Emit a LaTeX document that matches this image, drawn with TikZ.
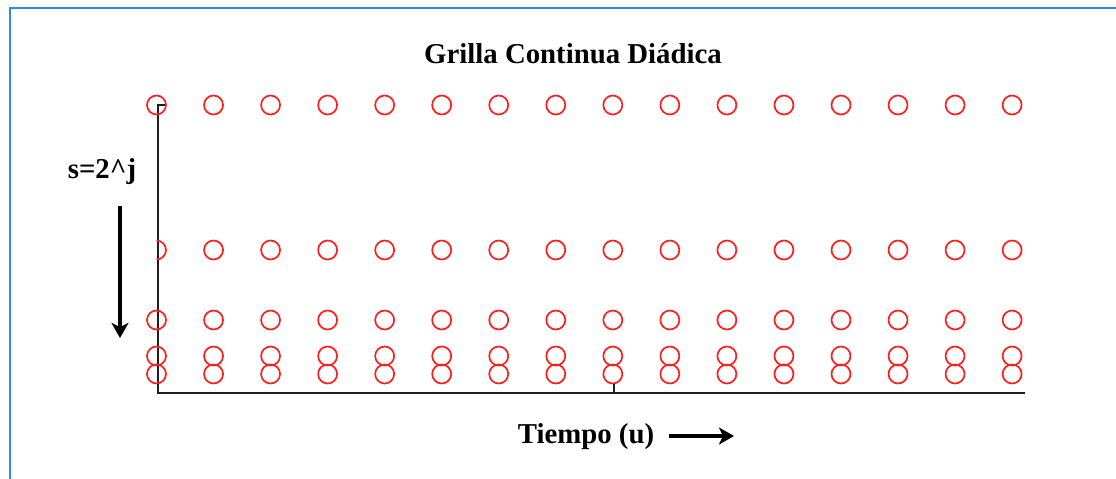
\documentclass[tikz,border=0pt]{standalone}
\usepackage{fontspec}
\setmainfont{Liberation Serif}
\usetikzlibrary{arrows.meta}
\definecolor{framblue}{RGB}{40,140,240}
\definecolor{dotred}{RGB}{255,30,30}
\definecolor{axisgray}{RGB}{30,30,30}
\tikzset{
  dot/.style={circle,draw=dotred,line width=1.7pt,minimum size=19pt,inner sep=0pt},
  axisline/.style={draw=axisgray,line width=2pt},
  bigarrow/.style={line width=3.2pt,-{Stealth[length=15pt,width=17pt,inset=4pt]}},
  lbl/.style={font=\fontsize{28.8}{30}\selectfont\bfseries,inner sep=0pt,anchor=base}
}
\begin{document}
\begin{tikzpicture}[x=1pt,y=-1pt]
\useasboundingbox[fill=white] (0,0) rectangle (1116,479);
% frame
\draw[framblue,line width=2.4pt] (10,479) -- (10,8) -- (1116,8);
% title and labels
\node[lbl] (title) at (573,63) {Grilla Continua Diádica};
\node[lbl] (scale) at (102,178) {s=2\^{}j};
\node[lbl] (time) at (586,443) {Tiempo (u)};
% axes
\coordinate (hook) at (165,105);
\coordinate (top) at (158,105);
\coordinate (origin) at (158,393);
\coordinate (xend) at (1025,393);
\coordinate (tick) at (614,384);
\coordinate (tickbase) at (614,393);
\draw[axisline] (hook) -- (top) -- (origin) -- (xend);
\draw[axisline] (tick) -- (tickbase);
% arrows
\coordinate (sa) at (120,206);
\coordinate (sb) at (120,338);
\draw[bigarrow] (sa) -- (sb);
\coordinate (ta) at (669,436);
\coordinate (tb) at (734,436);
\draw[bigarrow] (ta) -- (tb);
% grid of circles
\foreach \r/\y in {1/105,2/250,3/320,4/356,5/374}{
  \foreach \c in {0,...,15}{
    \ifnum\r=2 \ifnum\c=0
      \coordinate (d\r-\c) at (156.5,\y);
      \draw[dotred,line width=1.7pt] ([yshift=-9.5pt]d\r-\c) arc[start angle=-90,end angle=90,radius=9.5pt];
    \else
      \node[dot] (d\r-\c) at ({156.5+57.04*\c},\y) {};
    \fi\else
      \node[dot] (d\r-\c) at ({156.5+57.04*\c},\y) {};
    \fi
  }
}
\end{tikzpicture}
\end{document}
